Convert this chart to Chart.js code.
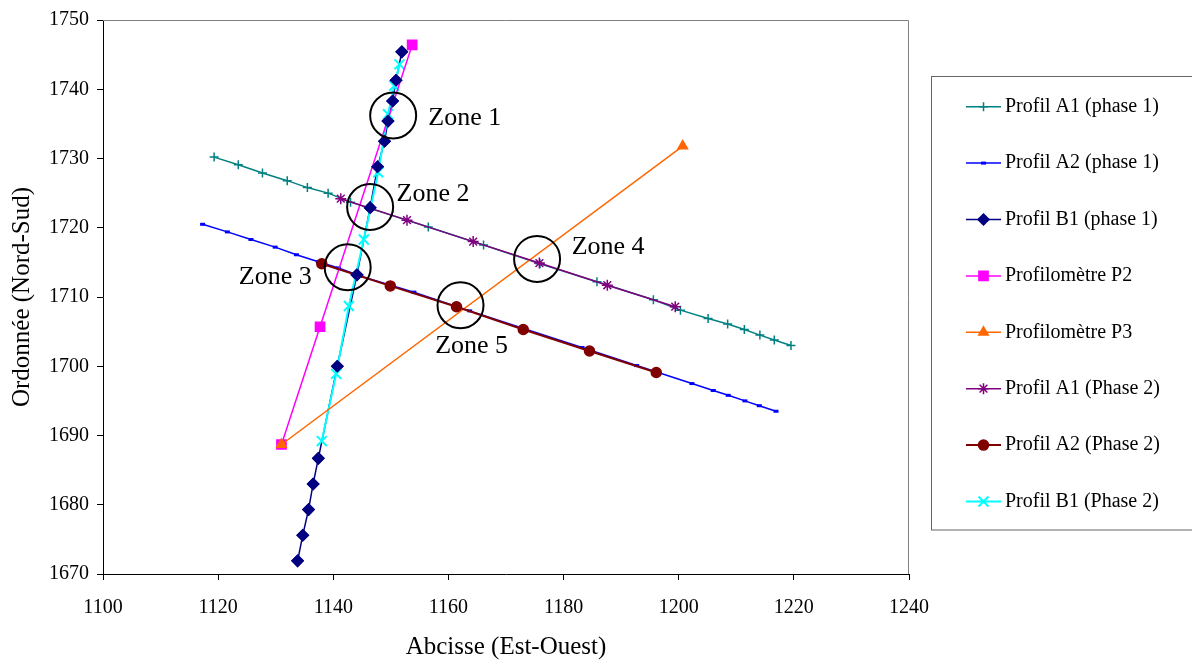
<!DOCTYPE html>
<html>
<head>
<meta charset="utf-8">
<script src="https://cdn.jsdelivr.net/npm/chart.js@4.4.0/dist/chart.umd.min.js"></script>
<style>
    body { margin: 0; background: #ffffff; }
    #wrap { width: 1192px; height: 660px; }
</style>
</head>
<body>
<div id="wrap"><canvas id="chart" width="1192" height="660"></canvas></div>
<script>
// Axis ticks
const xTickValues = [1100, 1120, 1140, 1160, 1180, 1200, 1220, 1240];
const yTickValues = [1670, 1680, 1690, 1700, 1710, 1720, 1730, 1740, 1750];

// Series values (x = Abcisse, y = Ordonnée)
const profilA1Phase1X = [1119.3, 1123.5, 1127.7, 1132.0, 1135.5, 1139.1, 1143.0, 1156.5, 1166.1, 1175.9, 1185.8, 1195.6, 1200.3, 1205.1, 1208.5, 1211.4, 1214.1, 1216.6, 1219.5];
const profilA1Phase1Y = [1730.2, 1729.1, 1727.9, 1726.8, 1725.8, 1725.0, 1723.7, 1720.1, 1717.5, 1714.8, 1712.2, 1709.6, 1708.1, 1706.9, 1706.1, 1705.3, 1704.5, 1703.8, 1703.0];

const profilA2Phase1X = [1117.3, 1121.6, 1125.7, 1129.9, 1133.6, 1137.4, 1140.9, 1144.8, 1154.0, 1163.7, 1173.3, 1183.2, 1192.7, 1202.3, 1206.0, 1208.6, 1211.5, 1214.0, 1216.9];
const profilA2Phase1Y = [1720.5, 1719.4, 1718.3, 1717.2, 1716.1, 1715.1, 1714.2, 1713.0, 1710.7, 1708.0, 1705.4, 1702.7, 1700.1, 1697.5, 1696.5, 1695.8, 1695.0, 1694.3, 1693.5];

const profilB1Phase1X = [1133.8, 1134.7, 1135.7, 1136.5, 1137.4, 1140.7, 1144.1, 1146.4, 1147.7, 1148.9, 1149.5, 1150.3, 1150.9, 1151.9];
const profilB1Phase1Y = [1671.9, 1675.6, 1679.3, 1683.0, 1686.7, 1700.0, 1713.2, 1722.9, 1728.8, 1732.5, 1735.4, 1738.3, 1741.3, 1745.4];

const profilometreP2X = [1131.0, 1137.7, 1153.7];
const profilometreP2Y = [1688.7, 1705.7, 1746.4];

const profilometreP3X = [1131.0, 1200.7];
const profilometreP3Y = [1688.7, 1731.8];

const profilA1Phase2X = [1141.3, 1152.8, 1164.3, 1175.8, 1187.6, 1199.4];
const profilA1Phase2Y = [1724.2, 1721.1, 1718.0, 1714.9, 1711.7, 1708.6];

const profilA2Phase2X = [1138.0, 1149.9, 1161.4, 1173.0, 1184.5, 1196.1];
const profilA2Phase2Y = [1714.8, 1711.6, 1708.6, 1705.3, 1702.2, 1699.1];

const profilB1Phase2X = [1138.0, 1140.5, 1142.7, 1145.3, 1147.8, 1149.5, 1150.6, 1151.5];
const profilB1Phase2Y = [1689.2, 1698.9, 1708.7, 1718.3, 1728.0, 1736.4, 1740.5, 1743.6];

// Zones (circle centres and label anchors, in data units)
const zoneNames = ['Zone 1', 'Zone 2', 'Zone 3', 'Zone 4', 'Zone 5'];
const zoneCenterX = [1150.4, 1146.4, 1142.5, 1175.4, 1162.1];
const zoneCenterY = [1736.2, 1723.0, 1714.3, 1715.5, 1708.8];
const zoneLabelX = [1156.5, 1151.0, 1123.6, 1181.4, 1157.7];
const zoneLabelY = [1735.8, 1724.9, 1712.9, 1717.2, 1702.9];

const SERIF = '"Liberation Serif", "Times New Roman", serif';

function toPoints(xs, ys) {
    return xs.map((x, i) => ({ x: x, y: ys[i] }));
}

function makeSeries(label, xs, ys, style) {
    return {
        label: label,
        data: toPoints(xs, ys),
        showLine: true,
        tension: 0,
        order: style.order,
        borderColor: style.color,
        backgroundColor: style.color,
        borderWidth: style.lineWidth || 1.5,
        pointStyle: style.pointStyle,
        pointRadius: style.radius,
        pointHoverRadius: style.radius,
        pointBorderWidth: style.pointBorderWidth || 1.5,
        pointBackgroundColor: style.color,
        pointBorderColor: style.color
    };
}

// order: lower value is drawn on top
const datasets = [
    makeSeries('Profil A1 (phase 1)', profilA1Phase1X, profilA1Phase1Y, { color: '#008080', pointStyle: 'cross', radius: 4.5, order: 8 }),
    makeSeries('Profil A2 (phase 1)', profilA2Phase1X, profilA2Phase1Y, { color: '#0000ff', pointStyle: 'line', radius: 2.5, pointBorderWidth: 3, order: 7 }),
    makeSeries('Profil B1 (phase 1)', profilB1Phase1X, profilB1Phase1Y, { color: '#000080', pointStyle: 'rectRot', radius: 5.5, order: 6 }),
    makeSeries('Profilomètre P2', profilometreP2X, profilometreP2Y, { color: '#ff00ff', pointStyle: 'rect', radius: 6.5, order: 4 }),
    makeSeries('Profilomètre P3', profilometreP3X, profilometreP3Y, { color: '#ff6600', pointStyle: 'triangle', radius: 5.5, order: 3.5 }),
    makeSeries('Profil A1 (Phase 2)', profilA1Phase2X, profilA1Phase2Y, { color: '#800080', pointStyle: 'star', radius: 5.5, order: 3 }),
    makeSeries('Profil A2 (Phase 2)', profilA2Phase2X, profilA2Phase2Y, { color: '#800000', pointStyle: 'circle', radius: 5, lineWidth: 2, order: 2 }),
    makeSeries('Profil B1 (Phase 2)', profilB1Phase2X, profilB1Phase2Y, { color: '#00ffff', pointStyle: 'crossRot', radius: 7, lineWidth: 2, pointBorderWidth: 2, order: 5 })
];
// Profil B1 (phase 1) markers are redrawn over the other lines
const markersOnTop = [2];

function drawMarker(ctx, ds, x, y) {
    ctx.save();
    ctx.fillStyle = ds.pointBackgroundColor;
    ctx.strokeStyle = ds.pointBorderColor;
    ctx.lineWidth = ds.pointBorderWidth;
    Chart.helpers.drawPoint(ctx, {
        pointStyle: ds.pointStyle,
        radius: ds.pointRadius,
        rotation: 0,
        borderWidth: ds.pointBorderWidth
    }, x, y);
    ctx.restore();
}

// Plot area frame, zone circles and the boxed legend
const decorations = {
    id: 'decorations',
    beforeDatasetsDraw(chart) {
        const { ctx, chartArea: a } = chart;
        ctx.save();
        ctx.strokeStyle = '#808080';
        ctx.lineWidth = 1;
        ctx.beginPath();
        ctx.moveTo(a.left, a.top + 0.5);
        ctx.lineTo(a.right - 0.5, a.top + 0.5);
        ctx.lineTo(a.right - 0.5, a.bottom);
        ctx.stroke();
        ctx.restore();
    },
    afterDatasetsDraw(chart) {
        const { ctx } = chart;
        const xs = chart.scales.x;
        const ys = chart.scales.y;

        markersOnTop.forEach((idx) => {
            chart.getDatasetMeta(idx).data.forEach((pt) => pt.draw(ctx, chart.chartArea));
        });

        ctx.save();
        ctx.strokeStyle = '#000000';
        ctx.lineWidth = 2;
        zoneNames.forEach((name, i) => {
            ctx.beginPath();
            ctx.arc(xs.getPixelForValue(zoneCenterX[i]), ys.getPixelForValue(zoneCenterY[i]), 23, 0, Math.PI * 2);
            ctx.stroke();
        });
        ctx.fillStyle = '#000000';
        ctx.font = '26px ' + SERIF;
        ctx.textAlign = 'left';
        ctx.textBaseline = 'middle';
        zoneNames.forEach((name, i) => {
            ctx.fillText(name, xs.getPixelForValue(zoneLabelX[i]), ys.getPixelForValue(zoneLabelY[i]));
        });
        ctx.restore();
    },
    afterDraw(chart) {
        const { ctx } = chart;
        const box = { left: 931.5, top: 76.5, width: 262, height: 453.5 };
        ctx.save();
        ctx.strokeStyle = '#666666';
        ctx.lineWidth = 1;
        ctx.strokeRect(box.left, box.top, box.width, box.height);

        ctx.font = '20px ' + SERIF;
        ctx.textAlign = 'left';
        ctx.textBaseline = 'middle';
        chart.data.datasets.forEach((ds, i) => {
            const y = 106.7 + i * 56.4;
            ctx.strokeStyle = ds.borderColor;
            ctx.lineWidth = ds.borderWidth;
            ctx.beginPath();
            ctx.moveTo(966, y);
            ctx.lineTo(1001, y);
            ctx.stroke();
            drawMarker(ctx, ds, 983.5, y);
            ctx.fillStyle = '#000000';
            ctx.fillText(ds.label, 1005, y);
        });
        ctx.restore();
    }
};

const chart = new Chart(document.getElementById('chart'), {
    type: 'scatter',
    data: { datasets: datasets },
    options: {
        responsive: false,
        animation: false,
        layout: { padding: { top: 20, right: 283, left: 0, bottom: 0 } },
        plugins: {
            legend: { display: false },
            tooltip: { enabled: false }
        },
        scales: {
            x: {
                type: 'linear',
                min: 1100,
                max: 1240,
                afterBuildTicks: (scale) => { scale.ticks = xTickValues.map(v => ({ value: v })); },
                afterFit: (scale) => { scale.height = 86; },
                grid: { drawOnChartArea: false, drawTicks: true, tickLength: 6, color: '#000000' },
                border: { color: '#000000', width: 1 },
                ticks: {
                    color: '#000000',
                    padding: 16,
                    font: { family: SERIF, size: 20 },
                    callback: (value) => String(value)
                },
                title: {
                    display: true,
                    text: 'Abcisse (Est-Ouest)',
                    color: '#000000',
                    font: { family: SERIF, size: 25, lineHeight: 1 },
                    padding: { top: 0, bottom: 0 }
                }
            },
            y: {
                type: 'linear',
                min: 1670,
                max: 1750,
                afterBuildTicks: (scale) => { scale.ticks = yTickValues.map(v => ({ value: v })); },
                afterFit: (scale) => { scale.width = 103; },
                grid: { drawOnChartArea: false, drawTicks: true, tickLength: 6, color: '#000000' },
                border: { color: '#000000', width: 1 },
                ticks: {
                    color: '#000000',
                    padding: 8,
                    font: { family: SERIF, size: 20 },
                    callback: (value) => String(value)
                },
                title: {
                    display: true,
                    text: 'Ordonnée (Nord-Sud)',
                    color: '#000000',
                    font: { family: SERIF, size: 25, lineHeight: 1 },
                    padding: { top: 10, bottom: 0 }
                }
            }
        }
    },
    plugins: [decorations]
});
</script>
</body>
</html>
